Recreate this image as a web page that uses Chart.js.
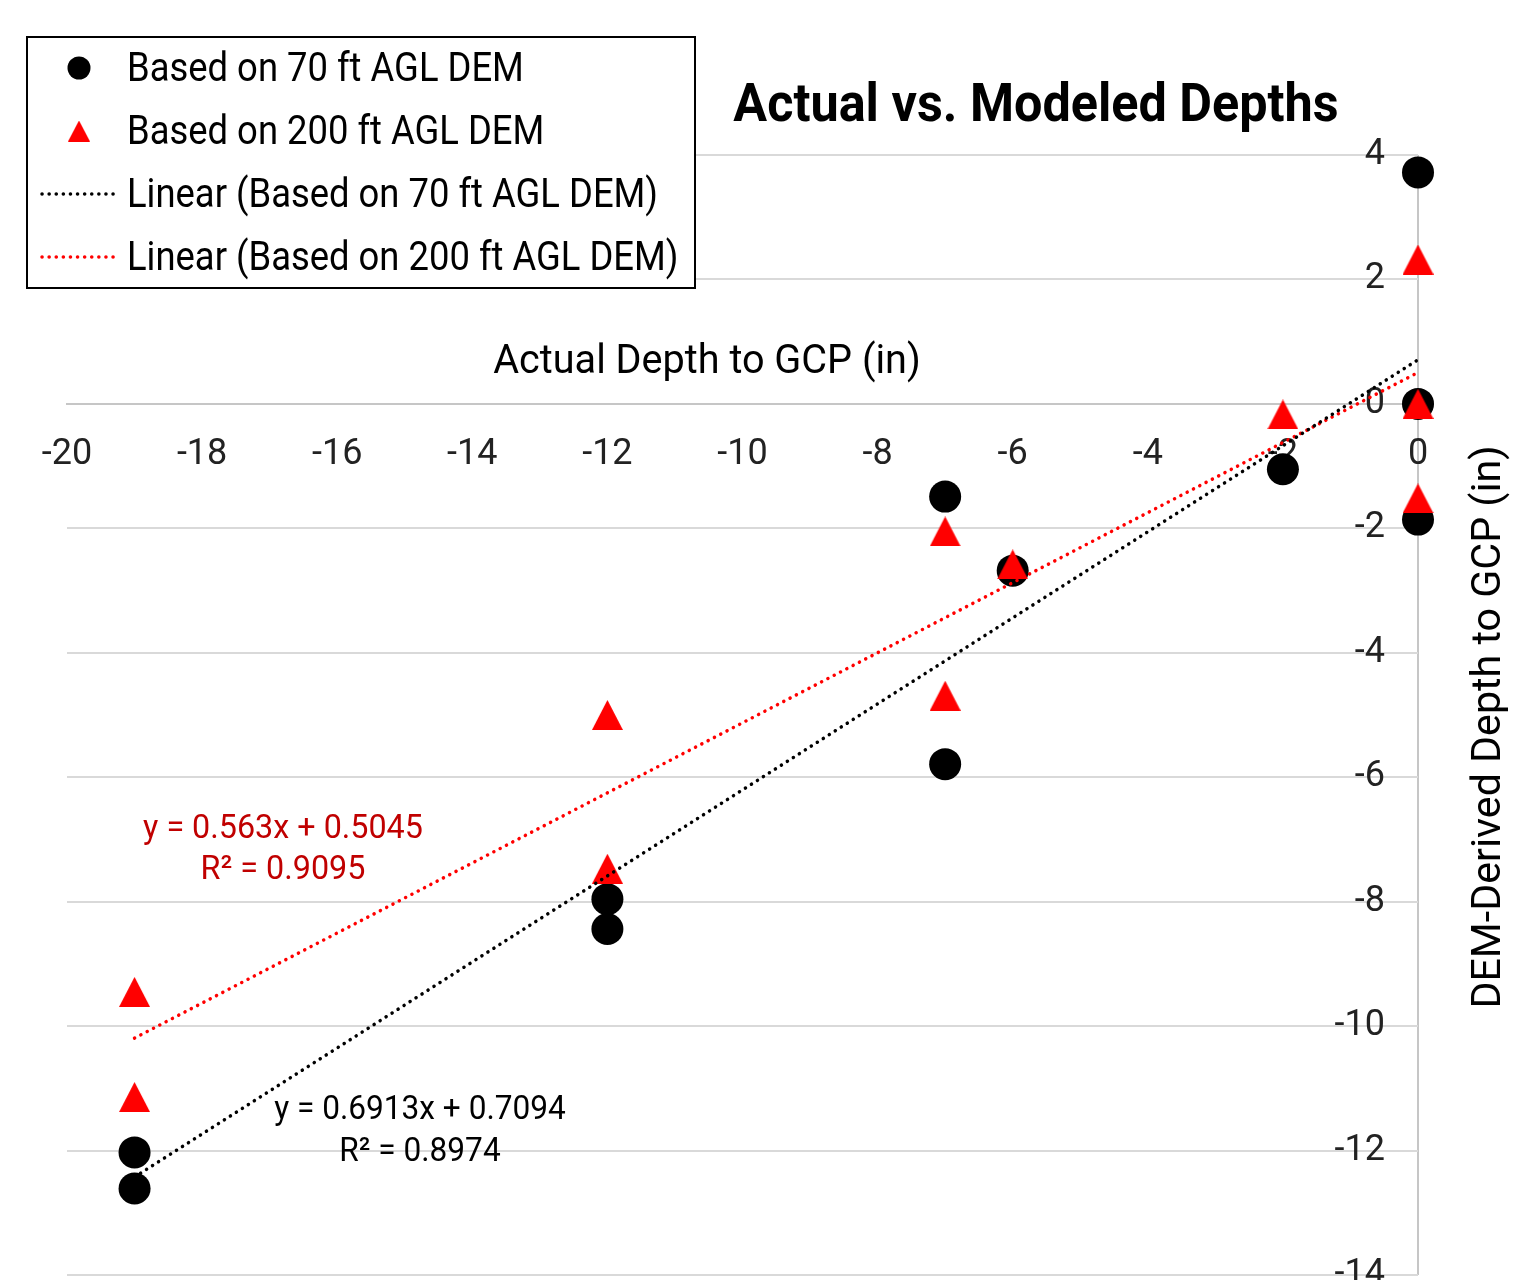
<!DOCTYPE html>
<html lang="en">
<head>
  <meta charset="UTF-8">
  <title>Actual vs. Modeled Depths</title>
  <style>
    * { margin: 0; padding: 0; box-sizing: border-box; }
    html, body { background: #fff; overflow: hidden; }
    .wrap { width: 1522px; height: 1300px; }
  </style>
  <script src="https://cdn.jsdelivr.net/npm/chart.js"></script>
</head>
<body>
  <div class="wrap">
    <canvas id="depthChart" width="1522" height="1300"></canvas>
  </div>
  <script>
// Actual depth to GCP (x) vs DEM-derived depth (y), inches
const actual70   = [0, 0, 0, -2, -7, -6, -7, -12, -12, -19, -19];
const derived70  = [3.72, 0, -1.86, -1.05, -1.49, -2.68, -5.79, -7.96, -8.44, -12.03, -12.61];
const actual200  = [0, 0, 0, -2, -7, -7, -6, -12, -12, -19, -19];
const derived200 = [2.32, 0, -1.52, -0.17, -2.05, -4.69, -2.58, -5.0, -7.47, -9.45, -11.14];

// linear trendlines as printed on the chart: [70 ft, 200 ft]
const trendSlopes     = [0.6913, 0.563];
const trendIntercepts = [0.7094, 0.5045];
const trendR2         = [0.8974, 0.9095];

const seriesNames = [
  'Based on 70 ft AGL DEM',
  'Based on 200 ft AGL DEM',
  'Linear (Based on 70 ft AGL DEM)',
  'Linear (Based on 200 ft AGL DEM)'
];

const xMin = -20, xMax = 0;
const yMin = -14, yMax = 4;
const tickStep = 2;

const RED = '#ff0000';
const GRID = '#d9d9d9';
const AXIS = '#c6c6c6';
const FONT = 'Roboto';

function toPoints(xs, ys) {
  return xs.map((x, i) => ({ x: x, y: ys[i] }));
}

function trendPoints(k, xs) {
  const lo = Math.min(...xs), hi = Math.max(...xs);
  return [lo, hi].map(x => ({ x: x, y: trendSlopes[k] * x + trendIntercepts[k] }));
}

// Excel-style triangle marker (isosceles, as wide as tall)
function makeTriangle(w, h, color) {
  const c = document.createElement('canvas');
  c.width = w; c.height = h;
  const g = c.getContext('2d');
  g.fillStyle = color;
  g.beginPath();
  g.moveTo(w / 2, 0);
  g.lineTo(w, h);
  g.lineTo(0, h);
  g.closePath();
  g.fill();
  return c;
}
const triBig = makeTriangle(31, 30, RED);
const triSmall = makeTriangle(22, 21, RED);

// text with horizontal squeeze, to get closer to the narrow DIN face
function say(ctx, str, x, y, size, opts) {
  opts = opts || {};
  ctx.save();
  ctx.translate(x, y);
  if (opts.rotate) ctx.rotate(opts.rotate);
  ctx.scale(opts.sx || 0.9, 1);
  ctx.font = (opts.bold ? 'bold ' : '') + size + 'px ' + FONT;
  ctx.fillStyle = opts.color || '#000';
  ctx.textAlign = opts.align || 'left';
  ctx.textBaseline = 'middle';
  ctx.fillText(str, 0, 0);
  ctx.restore();
}

const overlay = {
  id: 'overlay',
  afterDraw(chart) {
    const ctx = chart.ctx;

    say(ctx, 'Actual vs. Modeled Depths', 1036, 108, 53, { bold: true, align: 'center', sx: 0.95 });
    say(ctx, 'Actual Depth to GCP (in)', 707, 363, 40, { align: 'center', sx: 0.99 });
    say(ctx, 'DEM-Derived Depth to GCP (in)', 1490, 727, 40, { align: 'center', sx: 1.03, rotate: -Math.PI / 2 });

    // trendline equations
    say(ctx, 'y = ' + trendSlopes[1] + 'x + ' + trendIntercepts[1], 283, 829, 34, { align: 'center', color: '#c00000', sx: 0.95 });
    say(ctx, 'R² = ' + trendR2[1], 283, 870, 34, { align: 'center', color: '#c00000', sx: 0.95 });
    say(ctx, 'y = ' + trendSlopes[0] + 'x + ' + trendIntercepts[0], 420, 1110, 34, { align: 'center', sx: 0.93 });
    say(ctx, 'R² = ' + trendR2[0], 420, 1152, 34, { align: 'center', sx: 0.93 });

    // legend box
    ctx.save();
    ctx.fillStyle = '#fff';
    ctx.fillRect(27, 37, 668, 251);
    ctx.strokeStyle = '#000';
    ctx.lineWidth = 2;
    ctx.strokeRect(27, 37, 668, 251);
    ctx.restore();

    const rows = [68, 131, 194, 257];
    chart.data.datasets.forEach((ds, i) => {
      const y = rows[i];
      ctx.save();
      if (ds.showLine) {
        ctx.strokeStyle = ds.borderColor;
        ctx.lineWidth = ds.borderWidth;
        ctx.lineCap = 'round';
        ctx.setLineDash(ds.borderDash);
        ctx.beginPath();
        ctx.moveTo(42, y);
        ctx.lineTo(117, y);
        ctx.stroke();
      } else if (ds.pointStyle === 'circle') {
        ctx.fillStyle = ds.backgroundColor;
        ctx.beginPath();
        ctx.arc(79, y, 11.5, 0, Math.PI * 2);
        ctx.fill();
      } else {
        ctx.drawImage(triSmall, 79 - 11, y - 10.5);
      }
      ctx.restore();
      say(ctx, ds.label, 127, y + 3, 40, { sx: 0.91 });
    });
  }
};

new Chart(document.getElementById('depthChart'), {
  type: 'scatter',
  data: {
    datasets: [
      {
        label: seriesNames[0],
        data: toPoints(actual70, derived70),
        pointStyle: 'circle',
        pointRadius: 16,
        backgroundColor: '#000',
        borderColor: '#000',
        borderWidth: 0,
        clip: false,
        order: 3
      },
      {
        label: seriesNames[1],
        data: toPoints(actual200, derived200),
        pointStyle: triBig,
        backgroundColor: RED,
        borderColor: RED,
        clip: false,
        order: 2
      },
      {
        label: seriesNames[2],
        data: trendPoints(0, actual70),
        showLine: true,
        pointRadius: 0,
        borderColor: '#000',
        borderWidth: 3.5,
        borderDash: [0.1, 7],
        borderCapStyle: 'round',
        clip: false,
        order: 0
      },
      {
        label: seriesNames[3],
        data: trendPoints(1, actual200),
        showLine: true,
        pointRadius: 0,
        borderColor: RED,
        borderWidth: 3.5,
        borderDash: [0.1, 7],
        borderCapStyle: 'round',
        clip: false,
        order: 1
      }
    ]
  },
  options: {
    responsive: false,
    animation: false,
    layout: { padding: { left: 67, right: 104, top: 155, bottom: 25 } },
    plugins: {
      legend: { display: false },
      tooltip: { enabled: false }
    },
    scales: {
      x: {
        type: 'linear',
        min: xMin,
        max: xMax,
        position: { y: 0 },
        grid: {
          drawTicks: false,
          lineWidth: 2,
          color: c => (c.tick && c.tick.value === 0 ? AXIS : 'rgba(0,0,0,0)')
        },
        border: { display: true, color: AXIS, width: 2 },
        ticks: {
          stepSize: tickStep,
          padding: 30,
          color: '#222',
          font: { family: FONT, size: 36 }
        }
      },
      y: {
        type: 'linear',
        min: yMin,
        max: yMax,
        position: { x: -0.49 },
        grid: { drawTicks: false, lineWidth: 2, color: GRID },
        border: { display: false },
        ticks: {
          stepSize: tickStep,
          padding: 0,
          color: '#222',
          font: { family: FONT, size: 36 }
        }
      }
    }
  },
  plugins: [overlay]
});
  </script>
</body>
</html>
